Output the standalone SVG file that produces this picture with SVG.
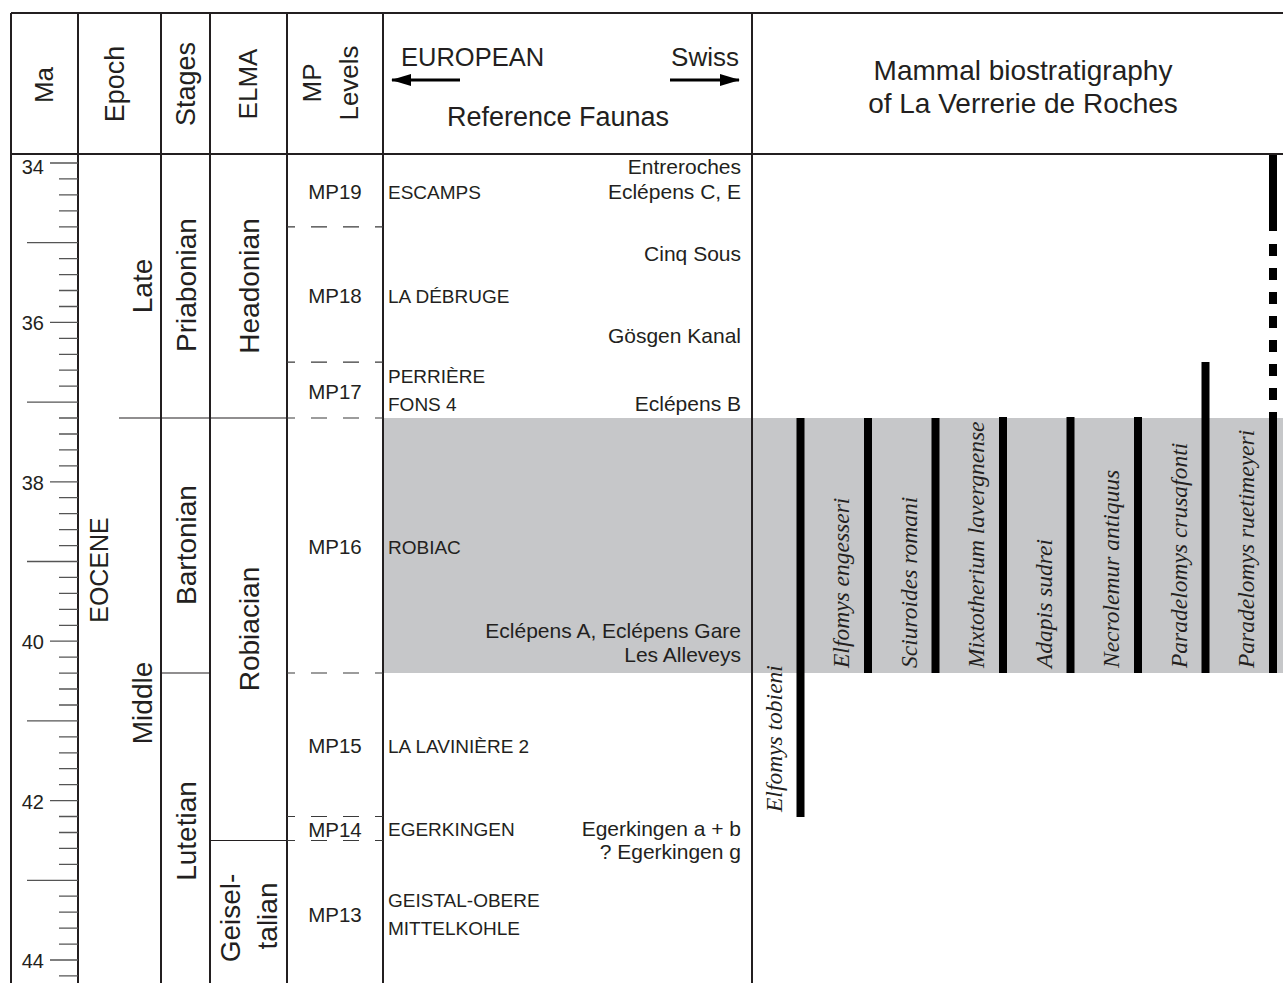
<svg xmlns="http://www.w3.org/2000/svg" width="1283" height="983" viewBox="0 0 1283 983">
<style>
  .t{font-family:"Liberation Sans",Arial,sans-serif;fill:#231f20}
  .b{font-size:19px}
  .s{font-size:21px}
  .m{font-size:20.5px}
  .h{font-size:27px}
  .l{font-size:28px}
  .n{font-size:20px}
  .sp{font-family:"Liberation Serif","Times New Roman",serif;font-style:italic;font-size:23.5px;fill:#231f20}
  .grid{stroke:#231f20;stroke-width:2;fill:none}
  .thin{stroke:#231f20;stroke-width:1.2;fill:none}
  .dash{stroke:#3a3a3a;stroke-width:1.2;fill:none;stroke-dasharray:16 16;stroke-dashoffset:8}
  .tick{stroke:#555;stroke-width:1.3;fill:none}
  .bar{fill:#000}
  .arr{stroke:#000;stroke-width:3;fill:none}
</style>
<defs>
  <marker id="ah" viewBox="0 0 20 12" refX="19" refY="6" markerWidth="20" markerHeight="12" markerUnits="userSpaceOnUse" orient="auto">
    <path d="M0,0 L20,6 L0,12 Z" fill="#000"/>
  </marker>
</defs>
<rect width="1283" height="983" fill="#fff"/>

<!-- gray band MP16 -->
<rect id="band-mp16" x="383" y="418" width="900" height="255" fill="#c6c7c9"/>

<!-- grid -->
<g id="grid">
  <path class="grid" d="M11,13H1283 M11,154H1283 M11,13V983 M78,13V983 M161,13V983 M210,13V983 M287,13V983 M383,13V983 M752,13V983"/>
  <path class="thin" d="M119,418H287 M161,673H210 M210,840.5H287"/>
  <path class="dash" d="M287,226.8H383 M287,362.2H383 M287,418H383 M287,673H383 M287,816.5H383 M287,840.5H383"/>
</g>

<!-- Ma axis -->
<g id="ma-axis">
  <path class="tick" d="M59,178.9H78 M59,194.9H78 M59,210.8H78 M59,226.8H78 M59,258.6H78 M59,274.6H78 M59,290.5H78 M59,306.5H78 M59,338.3H78 M59,354.3H78 M59,370.2H78 M59,386.2H78 M59,418H78 M59,434H78 M59,449.9H78 M59,465.9H78 M59,497.7H78 M59,513.7H78 M59,529.6H78 M59,545.6H78 M59,577.4H78 M59,593.4H78 M59,609.3H78 M59,625.3H78 M59,657.1H78 M59,673.1H78 M59,689H78 M59,705H78 M59,736.8H78 M59,752.8H78 M59,768.7H78 M59,784.7H78 M59,816.5H78 M59,832.5H78 M59,848.4H78 M59,864.4H78 M59,896.2H78 M59,912.2H78 M59,928.1H78 M59,944.1H78 M59,975.9H78"/>
  <path class="tick" d="M50,163H78 M50,322.4H78 M50,481.8H78 M50,641.2H78 M50,800.6H78 M50,960H78"/>
  <path class="tick" d="M27,242.7H78 M27,402.1H78 M27,561.5H78 M27,720.9H78 M27,880.3H78"/>
  <g class="t n" text-anchor="end">
    <text x="44" y="174">34</text>
    <text x="44" y="330">36</text>
    <text x="44" y="490">38</text>
    <text x="44" y="649">40</text>
    <text x="44" y="809">42</text>
    <text x="44" y="968">44</text>
  </g>
</g>

<!-- headers -->
<g id="hdr-ma"><text class="t" font-size="26" text-anchor="middle" transform="translate(53,85) rotate(-90)">Ma</text></g>
<g id="hdr-epoch"><text class="t h" text-anchor="middle" transform="translate(124,84) rotate(-90)">Epoch</text></g>
<g id="hdr-stages"><text class="t h" text-anchor="middle" transform="translate(195,84) rotate(-90)">Stages</text></g>
<g id="hdr-elma"><text class="t" font-size="26" text-anchor="middle" transform="translate(257,84) rotate(-90)">ELMA</text></g>
<g id="hdr-mp">
  <text class="t" font-size="26" text-anchor="middle" transform="translate(321,83) rotate(-90)">MP</text>
  <text class="t" font-size="26" text-anchor="middle" transform="translate(358,83) rotate(-90)">Levels</text>
</g>
<g id="hdr-faunas">
  <text class="t" font-size="25.5" x="401" y="66">EUROPEAN</text>
  <text class="t" font-size="26" x="739" y="66" text-anchor="end">Swiss</text>
  <text class="t h" x="558" y="126" text-anchor="middle">Reference Faunas</text>
</g>
<g id="hdr-bio">
  <text class="t l" x="1023" y="80" text-anchor="middle">Mammal biostratigraphy</text>
  <text class="t l" x="1023" y="113" text-anchor="middle">of La Verrerie de Roches</text>
</g>

<!-- epoch / stage / ELMA labels -->
<g id="epoch-eocene"><text class="t" font-size="25" text-anchor="middle" transform="translate(108,570) rotate(-90)">EOCENE</text></g>
<g id="epoch-late"><text class="t l" text-anchor="middle" transform="translate(152,286) rotate(-90)">Late</text></g>
<g id="epoch-middle"><text class="t l" text-anchor="middle" transform="translate(152,703) rotate(-90)">Middle</text></g>
<g id="stage-priabonian"><text class="t l" text-anchor="middle" transform="translate(196,285) rotate(-90)">Priabonian</text></g>
<g id="stage-bartonian"><text class="t l" text-anchor="middle" transform="translate(196,545) rotate(-90)">Bartonian</text></g>
<g id="stage-lutetian"><text class="t l" text-anchor="middle" transform="translate(196,831) rotate(-90)">Lutetian</text></g>
<g id="elma-headonian"><text class="t l" text-anchor="middle" transform="translate(259,286) rotate(-90)">Headonian</text></g>
<g id="elma-robiacian"><text class="t l" text-anchor="middle" transform="translate(259,629) rotate(-90)">Robiacian</text></g>
<g id="elma-geiseltalian">
  <text class="t l" text-anchor="middle" transform="translate(240,918) rotate(-90)">Geisel-</text>
  <text class="t l" text-anchor="middle" transform="translate(277,916) rotate(-90)">talian</text>
</g>

<!-- MP levels -->
<g id="mp-levels" class="t m" text-anchor="middle">
  <text x="335" y="198.5">MP19</text>
  <text x="335" y="302.5">MP18</text>
  <text x="335" y="398.5">MP17</text>
  <text x="335" y="554">MP16</text>
  <text x="335" y="753">MP15</text>
  <text x="335" y="836.5">MP14</text>
  <text x="335" y="921.5">MP13</text>
</g>

<!-- European reference faunas -->
<g id="faunas-european" class="t b">
  <text x="388" y="198.5">ESCAMPS</text>
  <text x="388" y="302.5">LA DÉBRUGE</text>
  <text x="388" y="383">PERRIÈRE</text>
  <text x="388" y="411">FONS 4</text>
  <text x="388" y="554">ROBIAC</text>
  <text x="388" y="752.5">LA LAVINIÈRE 2</text>
  <text x="388" y="836">EGERKINGEN</text>
  <text x="388" y="907">GEISTAL-OBERE</text>
  <text x="388" y="935">MITTELKOHLE</text>
</g>

<!-- Swiss reference faunas -->
<g id="faunas-swiss" class="t s" text-anchor="end">
  <text x="741" y="174">Entreroches</text>
  <text x="741" y="198.5">Eclépens C, E</text>
  <text x="741" y="261">Cinq Sous</text>
  <text x="741" y="342.5">Gösgen Kanal</text>
  <text x="741" y="411">Eclépens B</text>
  <text x="741" y="638">Eclépens A, Eclépens Gare</text>
  <text x="741" y="662">Les Alleveys</text>
  <text x="741" y="836">Egerkingen a + b</text>
  <text x="741" y="859">? Egerkingen g</text>
</g>

<!-- header arrows -->
<g id="arrows">
  <path class="arr" d="M460,80H392" marker-end="url(#ah)"/>
  <path class="arr" d="M670,80H739" marker-end="url(#ah)"/>
</g>

<!-- species ranges -->
<g id="sp-elfomys-tobieni">
  <rect class="bar" x="796.5" y="418" width="8" height="399"/>
  <text class="sp" transform="translate(781.5,812) rotate(-90)">Elfomys tobieni</text>
</g>
<g id="sp-elfomys-engesseri">
  <rect class="bar" x="864" y="418" width="8" height="255"/>
  <text class="sp" transform="translate(849,668) rotate(-90)">Elfomys engesseri</text>
</g>
<g id="sp-sciuroides-romani">
  <rect class="bar" x="931.5" y="418" width="8" height="255"/>
  <text class="sp" transform="translate(916.5,668) rotate(-90)">Sciuroides romani</text>
</g>
<g id="sp-mixtotherium-lavergnense">
  <rect class="bar" x="999" y="417" width="8" height="256"/>
  <text class="sp" transform="translate(984,668) rotate(-90)">Mixtotherium lavergnense</text>
</g>
<g id="sp-adapis-sudrei">
  <rect class="bar" x="1066.5" y="417" width="8" height="256"/>
  <text class="sp" transform="translate(1051.5,668) rotate(-90)">Adapis sudrei</text>
</g>
<g id="sp-necrolemur-antiquus">
  <rect class="bar" x="1134" y="417" width="8" height="256"/>
  <text class="sp" transform="translate(1119,668) rotate(-90)">Necrolemur antiquus</text>
</g>
<g id="sp-paradelomys-crusafonti">
  <rect class="bar" x="1201.5" y="362" width="8" height="311"/>
  <text class="sp" transform="translate(1186.5,668) rotate(-90)">Paradelomys crusafonti</text>
</g>
<g id="sp-paradelomys-ruetimeyeri">
  <rect class="bar" x="1269" y="155" width="8" height="76"/>
  <rect class="bar" x="1269" y="244" width="8" height="12"/>
  <rect class="bar" x="1269" y="268" width="8" height="12"/>
  <rect class="bar" x="1269" y="292" width="8" height="12"/>
  <rect class="bar" x="1269" y="316" width="8" height="12"/>
  <rect class="bar" x="1269" y="340" width="8" height="12"/>
  <rect class="bar" x="1269" y="364" width="8" height="12"/>
  <rect class="bar" x="1269" y="388" width="8" height="12"/>
  <rect class="bar" x="1269" y="412" width="8" height="261"/>
  <text class="sp" transform="translate(1254,668) rotate(-90)">Paradelomys ruetimeyeri</text>
</g>
</svg>
